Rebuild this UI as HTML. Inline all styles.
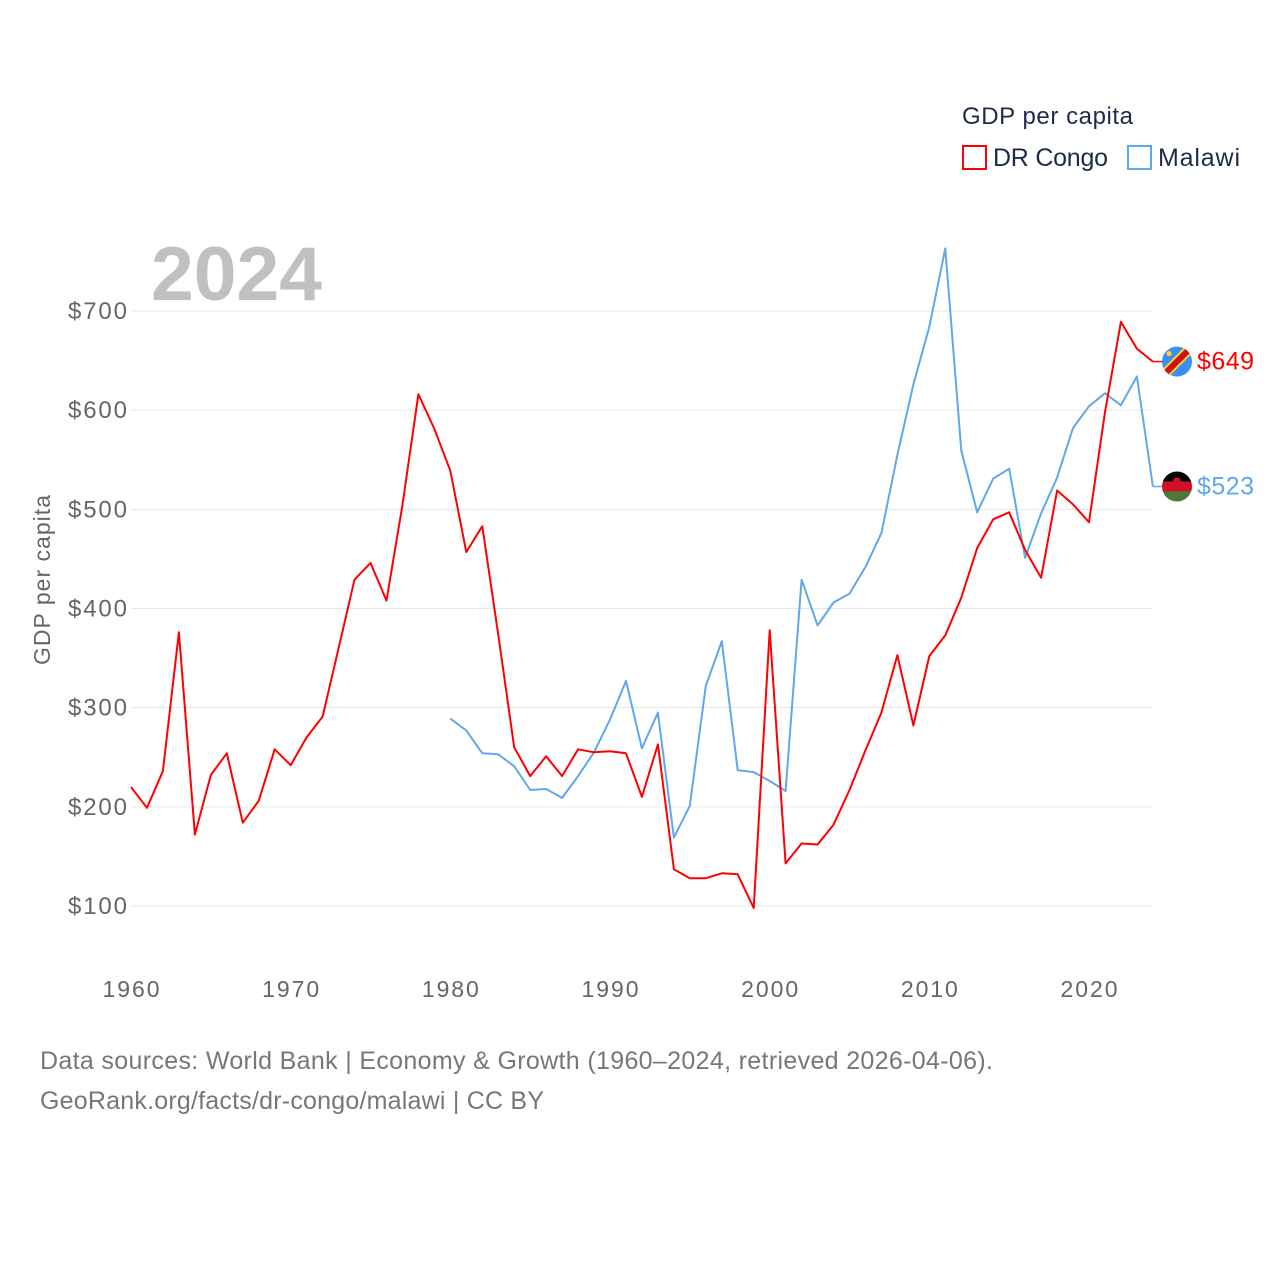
<!DOCTYPE html>
<html><head><meta charset="utf-8">
<style>
html,body{margin:0;padding:0;background:#fff;}
svg{display:block;font-family:"Liberation Sans",sans-serif;}
</style></head>
<body>
<svg id="chart" width="1280" height="1280" viewBox="0 0 1280 1280">
  <g id="grid"></g>
  <g id="yticks"></g>
  <g id="xticks"></g>
  <text x="151" y="300" font-size="76" font-weight="bold" fill="#c0c0c0" textLength="171" lengthAdjust="spacingAndGlyphs">2024</text>
  <text transform="translate(50,580) rotate(-90)" text-anchor="middle" font-size="23" fill="#666" textLength="170">GDP per capita</text>
  <g>
    <text x="962" y="124" font-size="24" fill="#1d2b4a" textLength="171">GDP per capita</text>
    <g>
      <rect x="963" y="146" width="23" height="23" fill="none" stroke="#ff0000" stroke-width="2"/>
      <text x="993" y="166" font-size="25" fill="#1d2b4a" textLength="115">DR Congo</text>
    </g>
    <g>
      <rect x="1128" y="146" width="23" height="23" fill="none" stroke="#5fa8ec" stroke-width="2"/>
      <text x="1158" y="166" font-size="25" fill="#1d2b4a" textLength="82">Malawi</text>
    </g>
  </g>
  <g id="series"></g>
  <g id="ends"></g>
  <text x="40" y="1069" font-size="25" fill="#777" textLength="953">Data sources: World Bank | Economy &amp; Growth (1960–2024, retrieved 2026-04-06).</text>
  <text x="40" y="1109" font-size="25" fill="#777" textLength="504">GeoRank.org/facts/dr-congo/malawi | CC BY</text>
</svg>
<script>
const congoStart = 1960;
const congoValues = [220,199,236,376,172,232,254,184,206,258,242,270,291,360,429,446,408,504,616,581,539,457,483,374,260,231,251,231,258,255,256,254,210,263,137,128,128,133,132,98,378,143,163,162,182,217,257,295,353,282,352,373,411,461,490,497,459,431,519,505,487,598,689,662,649];
const malawiStart = 1980;
const malawiValues = [289,277,254,253,241,217,218,209,231,255,288,327,259,295,169,201,322,367,237,235,226,216,429,383,406,415,442,476,555,626,684,763,559,497,531,541,451,496,532,582,604,617,605,634,523];
const yTicks = [100,200,300,400,500,600,700];
const xTicks = [1960,1970,1980,1990,2000,2010,2020];

const NS = "http://www.w3.org/2000/svg";
const xs = yr => 131 + (yr - 1960) * (1089 - 131) / 60;
const ys = v => 906 - (v - 100) * (906 - 311) / 600;
function mk(tag, attrs, parent) {
  const e = document.createElementNS(NS, tag);
  for (const k in attrs) e.setAttribute(k, attrs[k]);
  parent.appendChild(e);
  return e;
}
const grid = document.getElementById('grid');
const yt = document.getElementById('yticks');
yTicks.forEach(v => {
  const l = mk('line', {x1:131, x2:1152, y1:ys(v), y2:ys(v), stroke:'#e6e6e6', 'stroke-width':1}, grid);
  
  
  const t = mk('text', {x:127, y:ys(v)+8, 'text-anchor':'end', 'font-size':24, fill:'#666', textLength:59}, yt);
  t.textContent = '$' + v;
  
  
});
const xt = document.getElementById('xticks');
xTicks.forEach(yr => {
  const t = mk('text', {x:xs(yr), y:997, 'text-anchor':'middle', 'font-size':23, fill:'#666', textLength:57}, xt);
  t.textContent = yr;
  
  
});
const series = document.getElementById('series');
function line(start, vals, color, name) {
  const pts = vals.map((v, i) => xs(start + i).toFixed(1) + ',' + ys(v).toFixed(1)).join(' ');
  const p = mk('polyline', {points: pts, fill:'none', stroke: color, 'stroke-width': 2, 'stroke-linejoin':'round'}, series);
  
  
}
line(malawiStart, malawiValues, '#5fa8ec', 'malawi-line');
line(congoStart, congoValues, '#ff0000', 'dr-congo-line');

const ends = document.getElementById('ends');
function endLabel(start, vals, color, name, flag) {
  const last = vals[vals.length - 1];
  const x = xs(start + vals.length - 1), y = ys(last);
  mk('line', {x1:x, x2:x+10, y1:y, y2:y, stroke:color, 'stroke-width':1.5}, ends);
  const g = mk('g', {}, ends);
  
  
  flag(g, 1177, y);
  const t = mk('text', {x:1197, y:y+8, 'font-size':25, fill:color, textLength:57}, ends);
  t.textContent = '$' + last;
  
  
}
endLabel(congoStart, congoValues, '#ff0000', 'dr-congo', (g, cx, cy) => {
  const cp = mk('clipPath', {id:'cc'}, g);
  mk('circle', {cx, cy, r:15}, cp);
  const gg = mk('g', {'clip-path':'url(#cc)'}, g);
  mk('rect', {x:cx-15, y:cy-15, width:30, height:30, fill:'#3a8ef5'}, gg);
  mk('line', {x1:cx-18, y1:cy+18, x2:cx+18, y2:cy-18, stroke:'#f7d618', 'stroke-width':10}, gg);
  mk('line', {x1:cx-18, y1:cy+18, x2:cx+18, y2:cy-18, stroke:'#ce1021', 'stroke-width':6}, gg);
  mk('circle', {cx:cx-8, cy:cy-8, r:2.5, fill:'#f7d618'}, gg);
});
endLabel(malawiStart, malawiValues, '#5fa8ec', 'malawi', (g, cx, cy) => {
  const cp = mk('clipPath', {id:'mc'}, g);
  mk('circle', {cx, cy, r:15}, cp);
  const gg = mk('g', {'clip-path':'url(#mc)'}, g);
  mk('rect', {x:cx-15, y:cy-15, width:30, height:10, fill:'#000'}, gg);
  mk('rect', {x:cx-15, y:cy-5, width:30, height:10, fill:'#ce1126'}, gg);
  mk('rect', {x:cx-15, y:cy+5, width:30, height:10, fill:'#4a7a35'}, gg);
  mk('circle', {cx, cy:cy-5, r:4, fill:'#ce1126'}, gg);
});
</script>
</body></html>
